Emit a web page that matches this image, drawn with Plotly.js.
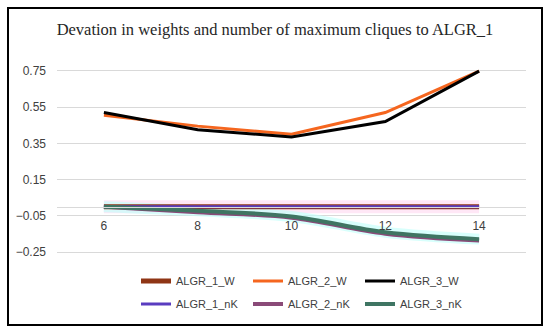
<!DOCTYPE html>
<html>
<head>
<meta charset="utf-8">
<script src="https://cdn.plot.ly/plotly-3.0.1.min.js"></script>
<style>
  html, body { margin: 0; padding: 0; background: #ffffff; }
  #chart { width: 550px; height: 332px; }
</style>
</head>
<body>
<div id="chart"></div>
<script>
// ---- data ----
const xValues = [6, 8, 10, 12, 14];
const algr1W  = [0, 0, 0, 0, 0];
const algr2W  = [0.505, 0.445, 0.40, 0.52, 0.748];
const algr3W  = [0.52, 0.425, 0.385, 0.47, 0.748];
const algr1nK = [0, 0, 0, 0, 0];
const algr2nK = [0, -0.03, -0.06, -0.148, -0.185];
const algr3nK = [0, -0.022, -0.053, -0.14, -0.178];
const yTicks  = [-0.25, -0.05, 0.15, 0.35, 0.55, 0.75];
const titleText = 'Devation in weights and number of maximum cliques to ALGR_1';

const traces = [
  // soft glows (no legend)
  {x: xValues, y: algr1W, mode: 'lines', line: {color: 'rgba(255,215,240,0.6)', width: 13}, showlegend: false, hoverinfo: 'skip'},
  {x: xValues, y: algr3nK, mode: 'lines', line: {color: 'rgba(195,255,250,0.65)', width: 11, shape: 'spline'}, showlegend: false, hoverinfo: 'skip'},
  // series
  {x: xValues, y: algr1W, name: 'ALGR_1_W', mode: 'lines', line: {color: '#8f3515', width: 5}, legend: 'legend'},
  {x: xValues, y: algr2W, name: 'ALGR_2_W', mode: 'lines', line: {color: '#f5661f', width: 3}, legend: 'legend'},
  {x: xValues, y: algr3W, name: 'ALGR_3_W', mode: 'lines', line: {color: '#000000', width: 3}, legend: 'legend'},
  {x: xValues, y: algr1nK, name: 'ALGR_1_nK', mode: 'lines', line: {color: '#5a3cc0', width: 3}, legend: 'legend2'},
  {x: xValues, y: algr2nK, name: 'ALGR_2_nK', mode: 'lines', line: {color: '#8a4a78', width: 4, shape: 'spline'}, legend: 'legend2'},
  {x: xValues, y: algr3nK, name: 'ALGR_3_nK', mode: 'lines', line: {color: '#3f7563', width: 4, shape: 'spline'}, legend: 'legend2'}
];

const legendCommon = {
  orientation: 'h',
  xref: 'container',
  yref: 'container',
  xanchor: 'left',
  yanchor: 'middle',
  bgcolor: 'rgba(0,0,0,0)',
  borderwidth: 0,
  font: {family: 'Liberation Sans, Arial, sans-serif', size: 11, color: '#404040'},
  entrywidth: 67,
  entrywidthmode: 'pixels',
  tracegroupgap: 0
};

const layout = {
  width: 550,
  height: 332,
  margin: {l: 57, r: 24, t: 69, b: 78, autoexpand: false},
  paper_bgcolor: '#ffffff',
  plot_bgcolor: '#ffffff',
  title: {
    text: titleText,
    x: 0.5, xanchor: 'center', xref: 'container',
    y: 1 - 29 / 332, yanchor: 'middle', yref: 'container',
    font: {family: 'Liberation Serif, Times New Roman, serif', size: 16.5, color: '#262626'}
  },
  xaxis: {
    range: [5, 15],
    tickvals: xValues,
    ticktext: xValues.map(String),
    showgrid: false,
    zeroline: false,
    showline: true,
    linecolor: '#d9d9d9',
    linewidth: 1,
    anchor: 'free',
    position: 0.26 / 1.02,
    ticks: 'outside',
    ticklen: 8,
    tickcolor: 'rgba(0,0,0,0)',
    tickfont: {family: 'Liberation Sans, Arial, sans-serif', size: 12, color: '#404040'},
    fixedrange: true
  },
  yaxis: {
    range: [-0.26, 0.76],
    tickvals: yTicks,
    tickformat: '.2f',
    showgrid: true,
    gridcolor: '#d9d9d9',
    gridwidth: 1,
    zeroline: false,
    showline: false,
    ticks: '',
    ticklabelstandoff: 10,
    tickfont: {family: 'Liberation Sans, Arial, sans-serif', size: 12, color: '#404040'},
    fixedrange: true
  },
  legend: Object.assign({}, legendCommon, {x: 136 / 550, y: 1 - 281 / 332}),
  legend2: Object.assign({}, legendCommon, {x: 136 / 550, y: 1 - 304 / 332}),
  shapes: [{
    type: 'rect', xref: 'paper', yref: 'paper',
    x0: (8 - 57) / 469, x1: (542 - 57) / 469,
    y0: (254 - 325) / 185, y1: (254 - 8) / 185,
    line: {color: '#000000', width: 2},
    fillcolor: 'rgba(0,0,0,0)',
    layer: 'above'
  }]
};

Plotly.newPlot('chart', traces, layout, {displayModeBar: false, staticPlot: true});
</script>
</body>
</html>
